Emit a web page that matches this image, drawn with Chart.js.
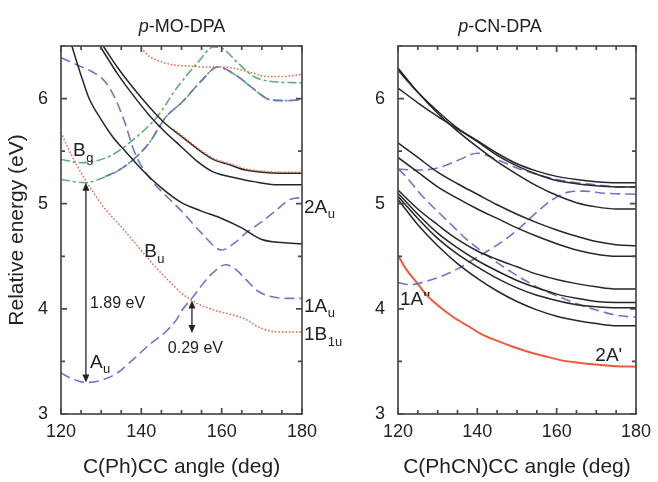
<!DOCTYPE html>
<html>
<head>
<meta charset="utf-8">
<script src="https://cdn.jsdelivr.net/npm/chart.js@4.4.1/dist/chart.umd.min.js"></script>
<style>
  html, body { margin: 0; padding: 0; background: #fff; }
  #wrap { position: relative; width: 658px; height: 482px; overflow: hidden; }
  canvas { position: absolute; top: 0; }
</style>
</head>
<body>
<div id="wrap">
  <canvas id="moChart" width="345" height="482" style="left:0"></canvas>
  <canvas id="cnChart" width="328" height="482" style="left:330px"></canvas>
</div>
<script>
// ---- p-MO-DPA (left panel): angle (deg) / energy (eV) ----
const moK1Ang = [130.5, 134, 138, 142, 146, 150, 154, 158, 162, 166, 170, 175, 180];
const moK1    = [6.50, 6.30, 6.10, 5.92, 5.76, 5.64, 5.52, 5.42, 5.37, 5.32, 5.30, 5.29, 5.29];
const moK2Ang = [129.7, 134, 138, 142, 146, 150, 154, 158, 163, 168, 174, 180];
const moK2    = [6.50, 6.24, 6.03, 5.84, 5.68, 5.54, 5.40, 5.30, 5.25, 5.21, 5.18, 5.18];
const moK3Ang = [122.7, 125, 127, 130, 133, 136, 140, 145, 150, 155, 160, 165, 170, 175, 180];
const moK3    = [6.50, 6.22, 6.00, 5.80, 5.63, 5.50, 5.33, 5.15, 5.01, 4.93, 4.86, 4.77, 4.66, 4.63, 4.62];
const moDotAAng = [138, 140, 142, 145, 148, 152, 156, 160, 164, 168, 171, 175, 180];
const moDotA    = [6.55, 6.48, 6.40, 6.35, 6.32, 6.31, 6.30, 6.30, 6.28, 6.24, 6.21, 6.21, 6.23];
const moDotBAng = [148, 150, 154, 158, 162, 166, 170, 175, 180];
const moDotB    = [5.71, 5.65, 5.53, 5.43, 5.38, 5.33, 5.31, 5.30, 5.30];
const moBuAng = [120, 122, 124, 126, 128, 131, 135, 139, 143, 147, 150, 154, 158, 162, 166, 169, 172, 175, 180];
const moBu    = [5.68, 5.51, 5.36, 5.23, 5.11, 4.95, 4.78, 4.60, 4.42, 4.26, 4.15, 4.05, 3.99, 3.95, 3.90, 3.83, 3.79, 3.78, 3.78];
const moG2Ang = [120, 125, 132, 138, 144, 149, 154, 158, 160, 164, 168, 173, 180];
const moG2    = [5.42, 5.39, 5.45, 5.61, 5.83, 6.11, 6.34, 6.49, 6.48, 6.34, 6.21, 6.16, 6.15];
const moG1Ang = [120, 126, 130, 134, 138, 142, 146, 150, 155, 159, 164, 168, 172, 176, 180];
const moG1    = [5.23, 5.20, 5.24, 5.31, 5.42, 5.58, 5.82, 5.96, 6.17, 6.30, 6.21, 6.09, 5.99, 5.98, 5.99];
const moA3Ang = [131, 134, 138, 142, 146, 150, 155, 159, 164, 168, 172, 176, 180];
const moA3    = [5.26, 5.31, 5.42, 5.58, 5.82, 5.96, 6.17, 6.30, 6.21, 6.09, 5.99, 5.98, 5.99];
const moA2Ang = [120, 124, 128, 131, 133.5, 136, 138, 140, 143, 146, 150, 155, 160, 163, 166, 170, 173, 177, 180];
const moA2    = [6.39, 6.32, 6.25, 6.16, 6.00, 5.76, 5.52, 5.36, 5.20, 5.08, 4.93, 4.72, 4.56, 4.62, 4.72, 4.83, 4.92, 5.04, 5.06];
const moA1Ang = [120, 123, 126, 130, 134, 138, 142, 146, 148.8, 150, 153, 156, 158, 161, 164, 166, 169, 172, 176, 180];
const moA1    = [3.39, 3.33, 3.30, 3.32, 3.39, 3.52, 3.66, 3.78, 3.90, 3.98, 4.12, 4.27, 4.35, 4.42, 4.36, 4.28, 4.17, 4.12, 4.10, 4.10];

// ---- p-CN-DPA (right panel) ----
const cnAng = [120, 125, 130, 135, 140, 145, 150, 155, 160, 165, 170, 175, 180];
const cnT1 = [6.27, 6.06, 5.88, 5.72, 5.60, 5.48, 5.38, 5.31, 5.26, 5.23, 5.21, 5.20, 5.20];
const cnT2 = [6.10, 5.96, 5.83, 5.71, 5.59, 5.46, 5.36, 5.28, 5.22, 5.19, 5.17, 5.16, 5.16];
const cnT3 = [6.29, 6.06, 5.86, 5.69, 5.54, 5.40, 5.28, 5.17, 5.08, 5.01, 4.97, 4.95, 4.95];
const cnM1 = [5.58, 5.44, 5.30, 5.19, 5.09, 4.99, 4.90, 4.82, 4.75, 4.69, 4.64, 4.61, 4.60];
const cnM2 = [5.44, 5.30, 5.16, 5.05, 4.95, 4.86, 4.77, 4.69, 4.62, 4.56, 4.52, 4.50, 4.50];
const cnL1 = [5.13, 4.95, 4.80, 4.66, 4.55, 4.47, 4.40, 4.33, 4.28, 4.24, 4.21, 4.19, 4.19];
const cnL2 = [5.10, 4.90, 4.72, 4.58, 4.46, 4.36, 4.27, 4.20, 4.14, 4.10, 4.07, 4.06, 4.06];
const cnL3 = [5.07, 4.86, 4.67, 4.52, 4.40, 4.29, 4.20, 4.13, 4.08, 4.04, 4.02, 4.01, 4.01];
const cnL4 = [5.04, 4.80, 4.60, 4.43, 4.29, 4.17, 4.07, 3.99, 3.93, 3.89, 3.86, 3.84, 3.84];
const cnB1Ang = [120, 123, 127, 131, 135, 139, 143, 147, 151, 155, 159, 163, 167, 172, 180];
const cnB1    = [4.25, 4.23, 4.26, 4.31, 4.38, 4.47, 4.56, 4.66, 4.78, 4.92, 5.04, 5.11, 5.12, 5.10, 5.09];
const cnB2    = [5.33, 5.32, 5.34, 5.41, 5.48, 5.42, 5.34, 5.28, 5.23, 5.20, 5.18, 5.16, 5.16];
const cnB3Ang = [120, 122, 125, 128, 131, 134, 137, 141, 145, 149, 153, 157, 161, 165, 170, 175, 180];
const cnB3    = [5.33, 5.26, 5.12, 5.00, 4.89, 4.78, 4.67, 4.55, 4.44, 4.34, 4.25, 4.17, 4.11, 4.05, 3.99, 3.94, 3.92];
const cnRAng = [120, 122, 124.75, 127, 130.5, 134, 138, 141, 144.75, 149, 153, 157, 161.25, 165, 169.75, 175, 180];
const cnR    = [4.51, 4.38, 4.25, 4.14, 4.02, 3.92, 3.83, 3.76, 3.70, 3.64, 3.59, 3.55, 3.51, 3.49, 3.47, 3.455, 3.45];

const FONT = "'Liberation Sans', Arial, Helvetica, sans-serif";
const INK = '#222';

const STYLE = {
  black:  { borderColor: '#262626', borderWidth: 1.5 },
  blue:   { borderColor: '#7076c6', borderWidth: 1.6, borderDash: [10, 5] },
  green:  { borderColor: '#5cae7a', borderWidth: 1.6, borderDash: [9, 3, 3, 3] },
  dotted: { borderColor: '#e8603c', borderWidth: 1.5, borderDash: [1.5, 2] },
  red:    { borderColor: '#ee5a3a', borderWidth: 2 }
};

function line(ang, val, kind) {
  return Object.assign({
    data: ang.map((a, i) => ({ x: a, y: val[i] })),
    pointRadius: 0,
    fill: false,
    cubicInterpolationMode: 'monotone',
    clip: 0
  }, STYLE[kind]);
}

function drawText(ctx, px, py, main, sub, size) {
  ctx.font = size + 'px ' + FONT;
  ctx.fillText(main, px, py);
  if (sub) {
    const w = ctx.measureText(main).width;
    ctx.font = Math.round(size * 0.68) + 'px ' + FONT;
    ctx.fillText(sub, px + w + 0.5, py + size * 0.28);
  }
}

function arrowHead(ctx, x, tip, dir) {
  ctx.beginPath();
  ctx.moveTo(x, tip);
  ctx.lineTo(x - 3.5, tip + dir * 8);
  ctx.lineTo(x + 3.5, tip + dir * 8);
  ctx.closePath();
  ctx.fill();
}

// frame with inward ticks, arrows, state labels and panel title
const panelDecor = {
  id: 'panelDecor',
  afterDraw(chart, args, opts) {
    const { ctx, chartArea: a, scales: { x, y } } = chart;
    ctx.save();
    ctx.strokeStyle = '#4a4a4a';
    ctx.lineWidth = 1.7;
    ctx.beginPath();
    for (let v = 120; v <= 180; v += 5) {
      const px = x.getPixelForValue(v), len = v % 20 === 0 ? 6 : 4;
      ctx.moveTo(px, a.bottom); ctx.lineTo(px, a.bottom - len);
      ctx.moveTo(px, a.top); ctx.lineTo(px, a.top + len);
    }
    for (let v = 3; v <= 6.5; v += 0.5) {
      const py = y.getPixelForValue(v), len = v % 1 === 0 ? 6 : 4;
      ctx.moveTo(a.left, py); ctx.lineTo(a.left + len, py);
      ctx.moveTo(a.right, py); ctx.lineTo(a.right - len, py);
    }
    ctx.stroke();
    ctx.strokeRect(a.left, a.top, a.width, a.height);

    ctx.fillStyle = INK;
    ctx.strokeStyle = INK;
    ctx.lineWidth = 1.3;
    (opts.arrows || []).forEach(ar => {
      const px = x.getPixelForValue(ar.x);
      const p1 = y.getPixelForValue(ar.from), p2 = y.getPixelForValue(ar.to);
      ctx.beginPath(); ctx.moveTo(px, p1 + 6); ctx.lineTo(px, p2 - 6); ctx.stroke();
      arrowHead(ctx, px, p1, 1);
      arrowHead(ctx, px, p2, -1);
    });

    ctx.textBaseline = 'alphabetic';
    ctx.textAlign = 'left';
    (opts.labels || []).forEach(l => {
      const px = l.x === null ? a.right + 2 : x.getPixelForValue(l.x);
      drawText(ctx, px, y.getPixelForValue(l.y), l.text, l.sub, l.size);
    });

    // panel title, leading "p" in italics
    const t = opts.title;
    ctx.font = 'italic 18px ' + FONT;
    const w1 = ctx.measureText(t[0]).width;
    ctx.font = '18px ' + FONT;
    const w2 = ctx.measureText(t[1]).width;
    const x0 = t[2] - (w1 + w2) / 2;
    ctx.font = 'italic 18px ' + FONT;
    ctx.fillText(t[0], x0, 32);
    ctx.font = '18px ' + FONT;
    ctx.fillText(t[1], x0 + w1, 32);
    ctx.restore();
  }
};

function makeOptions(yWidth, rightPad, yTitle, xTitle, decor) {
  return {
    responsive: false,
    animation: false,
    layout: { padding: { top: 46, right: rightPad, left: 0, bottom: 0 } },
    plugins: { legend: { display: false }, tooltip: { enabled: false }, panelDecor: decor },
    scales: {
      x: {
        type: 'linear', min: 120, max: 180,
        grid: { display: false, drawTicks: false }, border: { display: false },
        ticks: { stepSize: 20, includeBounds: false, padding: 7, maxRotation: 0, color: INK, font: { family: FONT, size: 18 } },
        title: { display: true, text: xTitle, color: INK, font: { family: FONT, size: 21 }, padding: { top: 0, bottom: 2 } },
        afterFit: s => { s.height = 68; }
      },
      y: {
        type: 'linear', min: 3, max: 6.5,
        grid: { display: false, drawTicks: false }, border: { display: false },
        ticks: { stepSize: 1, includeBounds: false, padding: 13, color: INK, font: { family: FONT, size: 18 } },
        title: { display: !!yTitle, text: yTitle, color: INK, font: { family: FONT, size: 21 }, padding: { top: 5, bottom: 0 } },
        afterFit: s => { s.width = yWidth; }
      }
    }
  };
}

new Chart(document.getElementById('moChart').getContext('2d'), {
  type: 'line',
  plugins: [panelDecor],
  data: {
    datasets: [
      line(moDotBAng, moDotB, 'dotted'),
      line(moK1Ang, moK1, 'black'),
      line(moK2Ang, moK2, 'black'),
      line(moK3Ang, moK3, 'black'),
      line(moDotAAng, moDotA, 'dotted'),
      line(moBuAng, moBu, 'dotted'),
      line(moA3Ang, moA3, 'blue'),
      line(moG2Ang, moG2, 'green'),
      line(moG1Ang, moG1, 'green'),
      line(moA2Ang, moA2, 'blue'),
      line(moA1Ang, moA1, 'blue')
    ]
  },
  options: makeOptions(61, 43, 'Relative energy (eV)', 'C(Ph)CC angle (deg)', {
    title: ['p', '-MO-DPA', 182],
    arrows: [{ x: 126.2, from: 5.20, to: 3.30 }, { x: 152.6, from: 4.08, to: 3.77 }],
    labels: [
      { text: 'B', sub: 'g', x: 123.0, y: 5.45, size: 19 },
      { text: 'B', sub: 'u', x: 140.7, y: 4.49, size: 19 },
      { text: 'A', sub: 'u', x: 127.2, y: 3.44, size: 19 },
      { text: '1.89 eV', x: 127.2, y: 4.01, size: 16 },
      { text: '0.29 eV', x: 146.6, y: 3.58, size: 16 },
      { text: '2A', sub: 'u', x: null, y: 4.91, size: 19 },
      { text: '1A', sub: 'u', x: null, y: 3.97, size: 19 },
      { text: '1B', sub: '1u', x: null, y: 3.70, size: 19 }
    ]
  })
});

new Chart(document.getElementById('cnChart').getContext('2d'), {
  type: 'line',
  plugins: [panelDecor],
  data: {
    datasets: [
      line(cnAng, cnT1, 'black'),
      line(cnAng, cnT2, 'black'),
      line(cnAng, cnT3, 'black'),
      line(cnAng, cnM1, 'black'),
      line(cnAng, cnM2, 'black'),
      line(cnAng, cnL1, 'black'),
      line(cnAng, cnL2, 'black'),
      line(cnAng, cnL3, 'black'),
      line(cnAng, cnL4, 'black'),
      line(cnB1Ang, cnB1, 'blue'),
      line(cnAng, cnB2, 'blue'),
      line(cnB3Ang, cnB3, 'blue'),
      line(cnRAng, cnR, 'red')
    ]
  },
  options: makeOptions(68, 20, '', 'C(PhCN)CC angle (deg)', {
    title: ['p', '-CN-DPA', 170],
    labels: [
      { text: "1A''", x: 120.5, y: 4.04, size: 19 },
      { text: "2A'", x: 169.75, y: 3.50, size: 19 }
    ]
  })
});
</script>
</body>
</html>
